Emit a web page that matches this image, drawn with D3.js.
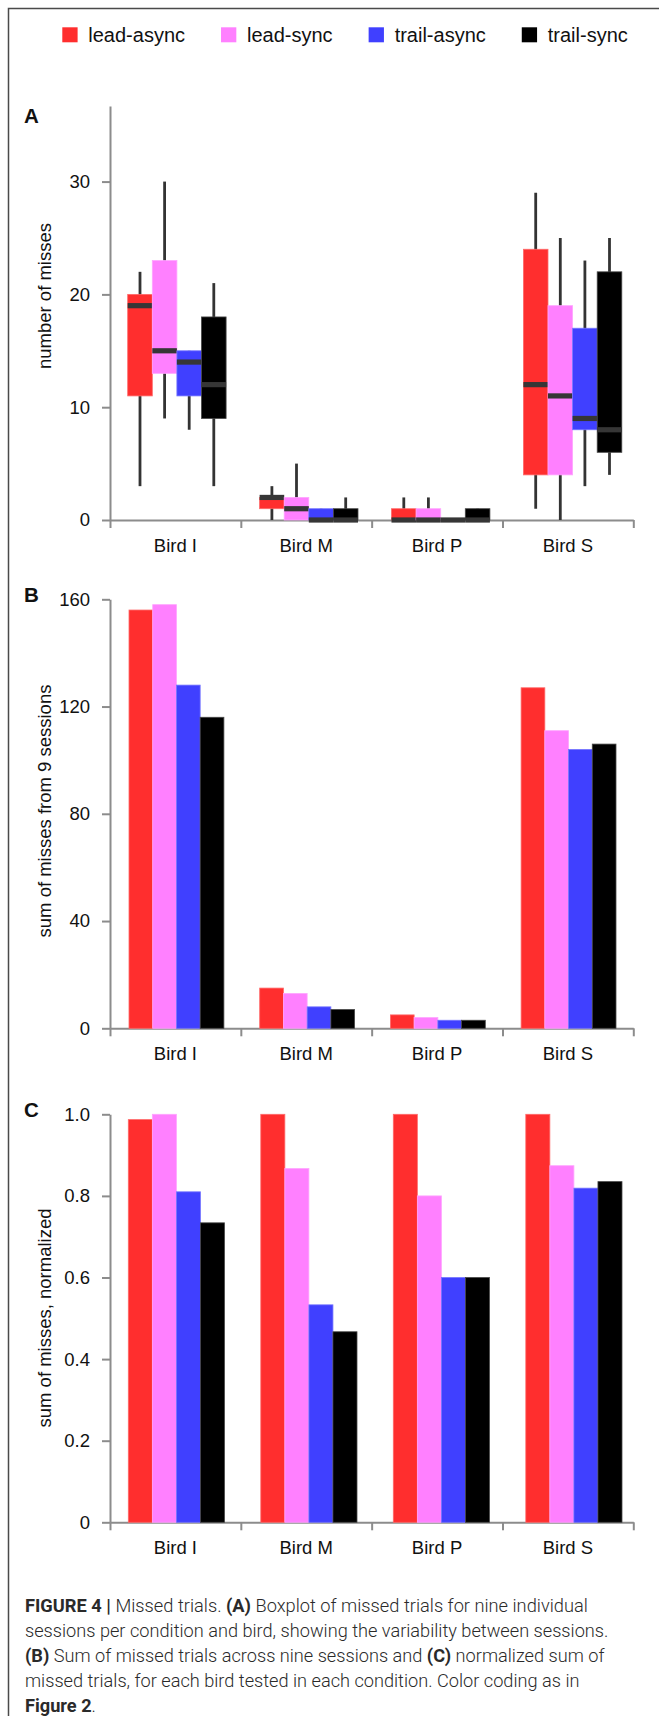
<!DOCTYPE html>
<html>
<head>
<meta charset="utf-8">
<script src="https://cdn.jsdelivr.net/npm/d3@7"></script>
<style>
body { margin: 0; background: #fff; }
svg text { font-family: "Liberation Sans", Arial, sans-serif; }
</style>
</head>
<body>
<script>
//categories on the x axis
var birds = ["Bird I", "Bird M", "Bird P", "Bird S"];
//conditions and their colours
var conditions = ["lead-async", "lead-sync", "trail-async", "trail-sync"];
var condColors = ["#ff2e2e", "#ff80ff", "#4040ff", "#000000"];

//panel A boxplots, per bird: [whisker low, q1, median, q3, whisker high]
var boxLeadAsync = [[3, 11, 19, 20, 22], [0, 1, 2, 2, 3], [0, 0, 0, 1, 2], [1, 4, 12, 24, 29]];
var boxLeadSync = [[9, 13, 15, 23, 30], [0, 0, 1, 2, 5], [0, 0, 0, 1, 2], [0, 4, 11, 19, 25]];
var boxTrailAsync = [[8, 11, 14, 15, 15], [0, 0, 0, 1, 1], [0, 0, 0, 0, 0], [3, 8, 9, 17, 23]];
var boxTrailSync = [[3, 9, 12, 18, 21], [0, 0, 0, 1, 2], [0, 0, 0, 1, 1], [4, 6, 8, 22, 25]];

//panel B, sum of misses from 9 sessions
var sumLeadAsync = [156, 15, 5, 127];
var sumLeadSync = [158, 13, 4, 111];
var sumTrailAsync = [128, 8, 3, 104];
var sumTrailSync = [116, 7, 3, 106];

//panel C, normalized sums
var normLeadAsync = [0.987, 1, 1, 1];
var normLeadSync = [1, 0.867, 0.8, 0.874];
var normTrailAsync = [0.81, 0.533, 0.6, 0.819];
var normTrailSync = [0.734, 0.467, 0.6, 0.835];

//tick labels
var ticksA = [0, 10, 20, 30];
var ticksB = [0, 40, 80, 120, 160];
var ticksC = [0, 0.2, 0.4, 0.6, 0.8, 1.0];

//caption lines, [text, bold]
var captionLines = [
    [["FIGURE 4 | ", true], ["Missed trials. ", false], ["(A)", true], [" Boxplot of missed trials for nine individual", false]],
    [["sessions per condition and bird, showing the variability between sessions.", false]],
    [["(B)", true], [" Sum of missed trials across nine sessions and ", false], ["(C)", true], [" normalized sum of", false]],
    [["missed trials, for each bird tested in each condition. Color coding as in", false]],
    [["Figure 2", true], [".", false]]
];

var width = 659, height = 1725;
var axisLeftX = 110, axisRightX = 633.3;

window.onload = setPage();

function setPage() {
    var svg = d3.select("body").append("svg")
        .attr("width", width)
        .attr("height", height);

    drawFrame(svg);
    drawLegend(svg);

    //panel A
    var panelA = {label: "A", labelY: 123, zero: 520, top: 106, max: 36.7, ticks: ticksA,
        title: "number of misses", titleY: 296, groupRange: [127.7, 621.8], groupPad: 0.254,
        fmt: d3.format("d")};
    var yA = drawPanelAxes(svg, panelA);
    drawBoxes(svg, panelA, yA, [boxLeadAsync, boxLeadSync, boxTrailAsync, boxTrailSync]);

    //panel B
    var panelB = {label: "B", labelY: 601.7, zero: 1028.3, top: 599.3, max: 160, ticks: ticksB,
        title: "sum of misses from 9 sessions", titleY: 811, groupRange: [129, 616], groupPad: 0.274,
        fmt: d3.format("d")};
    var yB = drawPanelAxes(svg, panelB);
    drawBars(svg, panelB, yB, [sumLeadAsync, sumLeadSync, sumTrailAsync, sumTrailSync]);

    //panel C
    var panelC = {label: "C", labelY: 1116.7, zero: 1522.3, top: 1114.3, max: 1, ticks: ticksC,
        title: "sum of misses, normalized", titleY: 1318, groupRange: [128.3, 622], groupPad: 0.274,
        fmt: function(d) { return d === 0 ? "0" : d3.format(".1f")(d); }};
    var yC = drawPanelAxes(svg, panelC);
    drawBars(svg, panelC, yC, [normLeadAsync, normLeadSync, normTrailAsync, normTrailSync]);

    drawCaption(svg);
};

function drawFrame(svg) {
    //thin page frame on the left and top
    svg.append("path")
        .attr("d", "M8.5,1716V8.5H" + width)
        .attr("fill", "none")
        .attr("stroke", "#4a4a4a")
        .attr("stroke-width", 1.5);
}

function drawLegend(svg) {
    var x = 62.3;
    var legend = svg.append("g").attr("class", "legend");
    conditions.forEach(function(c, i) {
        legend.append("rect")
            .attr("x", x)
            .attr("y", 27.3)
            .attr("width", 15.3)
            .attr("height", 15)
            .attr("fill", condColors[i]);
        var t = legend.append("text")
            .attr("x", x + 26)
            .attr("y", 42)
            .attr("font-size", 20)
            .attr("fill", "#111")
            .text(c);
        x = x + 26 + t.node().getComputedTextLength() + 36;
    });
}

function colorEdge(c) {
    //slightly lighter outline round each mark
    return d3.interpolateRgb(c, "#ffffff")(0.28);
}

function drawPanelAxes(svg, p) {
    var y = d3.scaleLinear()
        .domain([0, p.max])
        .range([p.zero, p.top]);

    var yAxis = svg.append("g")
        .attr("class", "yAxis")
        .attr("transform", "translate(" + axisLeftX + ",0)")
        .call(d3.axisLeft(y).tickValues(p.ticks).tickSize(8).tickSizeOuter(0).tickPadding(12).tickFormat(p.fmt));
    styleAxis(yAxis);

    //x axis: ticks on the category boundaries
    var xTicks = d3.scaleLinear().domain([0, birds.length]).range([axisLeftX, axisRightX]);
    var xAxis = svg.append("g")
        .attr("class", "xAxis")
        .attr("transform", "translate(0," + p.zero + ")")
        .call(d3.axisBottom(xTicks).tickValues(d3.range(birds.length + 1)).tickSize(8).tickSizeOuter(0).tickFormat(""));
    styleAxis(xAxis);

    var xLabels = d3.scaleBand().domain(birds).range([axisLeftX, axisRightX]);
    svg.append("g").selectAll("text")
        .data(birds)
        .enter()
      .append("text")
        .attr("x", function(d) { return xLabels(d) + xLabels.bandwidth() / 2; })
        .attr("y", p.zero + 32)
        .attr("text-anchor", "middle")
        .attr("font-size", 18.5)
        .attr("fill", "#111")
        .text(function(d) { return d; });

    //axis title
    svg.append("text")
        .attr("transform", "translate(45," + p.titleY + ") rotate(-90)")
        .attr("text-anchor", "middle")
        .attr("dy", "0.35em")
        .attr("font-size", 18.5)
        .attr("fill", "#111")
        .text(p.title);

    //panel letter
    svg.append("text")
        .attr("x", 24)
        .attr("y", p.labelY)
        .attr("font-size", 20.5)
        .attr("font-weight", "bold")
        .attr("fill", "#111")
        .text(p.label);

    return y;
}

function styleAxis(g) {
    g.attr("font-size", null).attr("font-family", null);
    g.selectAll("path, line")
        .attr("stroke", "#8c8c8c")
        .attr("stroke-width", 2);
    g.selectAll("text")
        .attr("font-size", 18.5)
        .attr("fill", "#111");
}

function groupScales(p) {
    var x0 = d3.scaleBand().domain(birds).range(p.groupRange).paddingInner(p.groupPad).paddingOuter(0);
    var x1 = d3.scaleBand().domain(conditions).range([0, x0.bandwidth()]);
    return [x0, x1];
}

function drawBoxes(svg, p, y, series) {
    var sc = groupScales(p), x0 = sc[0], x1 = sc[1];
    var rows = [];
    series.forEach(function(s, i) {
        s.forEach(function(v, j) {
            rows.push({bird: birds[j], cond: conditions[i], color: condColors[i], v: v});
        });
    });

    var boxes = svg.append("g").attr("class", "boxes")
        .selectAll("g")
        .data(rows)
        .enter()
      .append("g")
        .attr("transform", function(d) { return "translate(" + (x0(d.bird) + x1(d.cond)) + ",0)"; });

    //whiskers
    boxes.append("line")
        .attr("x1", x1.bandwidth() / 2)
        .attr("x2", x1.bandwidth() / 2)
        .attr("y1", function(d) { return y(d.v[0]); })
        .attr("y2", function(d) { return y(d.v[4]); })
        .attr("stroke", "#333")
        .attr("stroke-width", 2.8);

    //box from q1 to q3
    boxes.append("rect")
        .attr("x", 0)
        .attr("width", x1.bandwidth())
        .attr("y", function(d) { return y(d.v[3]); })
        .attr("height", function(d) { return y(d.v[1]) - y(d.v[3]); })
        .attr("fill", function(d) { return d.color; })
        .attr("stroke", function(d) { return d.v[3] > d.v[1] ? colorEdge(d.color) : "none"; })
        .attr("stroke-width", 0.8);

    //median
    boxes.append("rect")
        .attr("x", 0)
        .attr("width", x1.bandwidth())
        .attr("y", function(d) { return y(d.v[2]) - 2.6; })
        .attr("height", 5.2)
        .attr("fill", "#363636");
}

function drawBars(svg, p, y, series) {
    var sc = groupScales(p), x0 = sc[0], x1 = sc[1];
    var rows = [];
    series.forEach(function(s, i) {
        s.forEach(function(v, j) {
            rows.push({bird: birds[j], cond: conditions[i], color: condColors[i], v: v});
        });
    });

    svg.append("g").attr("class", "bars")
        .selectAll("rect")
        .data(rows)
        .enter()
      .append("rect")
        .attr("x", function(d) { return x0(d.bird) + x1(d.cond); })
        .attr("width", x1.bandwidth())
        .attr("y", function(d) { return y(d.v); })
        .attr("height", function(d) { return y(0) - y(d.v); })
        .attr("fill", function(d) { return d.color; })
        .attr("stroke", function(d) { return colorEdge(d.color); })
        .attr("stroke-width", 0.8);
}

function drawCaption(svg) {
    var g = svg.append("g").attr("class", "caption");
    var lines = g.selectAll("text")
        .data(captionLines)
        .enter()
      .append("text")
        .attr("x", 0)
        .attr("y", function(d, i) { return 1611.7 + i * 25; })
        .attr("font-size", 19)
        .attr("fill", "#2a2a2a")
        .style("font-family", "Roboto, 'Liberation Sans', sans-serif")
        .style("white-space", "pre");
    lines.selectAll("tspan")
        .data(function(d) { return d; })
        .enter()
      .append("tspan")
        .attr("font-weight", function(d) { return d[1] ? 700 : 300; })
        .text(function(d) { return d[0]; });

    //squeeze to the narrow caption face of the original:
    //first line fitted on its own, the rest follow the second line
    var nodes = lines.nodes();
    var sx1 = 563 / nodes[0].getComputedTextLength();
    var sx = 584 / nodes[1].getComputedTextLength();
    lines.attr("transform", function(d, i) {
        return "translate(25,0) scale(" + (i === 0 ? sx1 : sx) + ",1)";
    });
}
</script>
</body>
</html>
